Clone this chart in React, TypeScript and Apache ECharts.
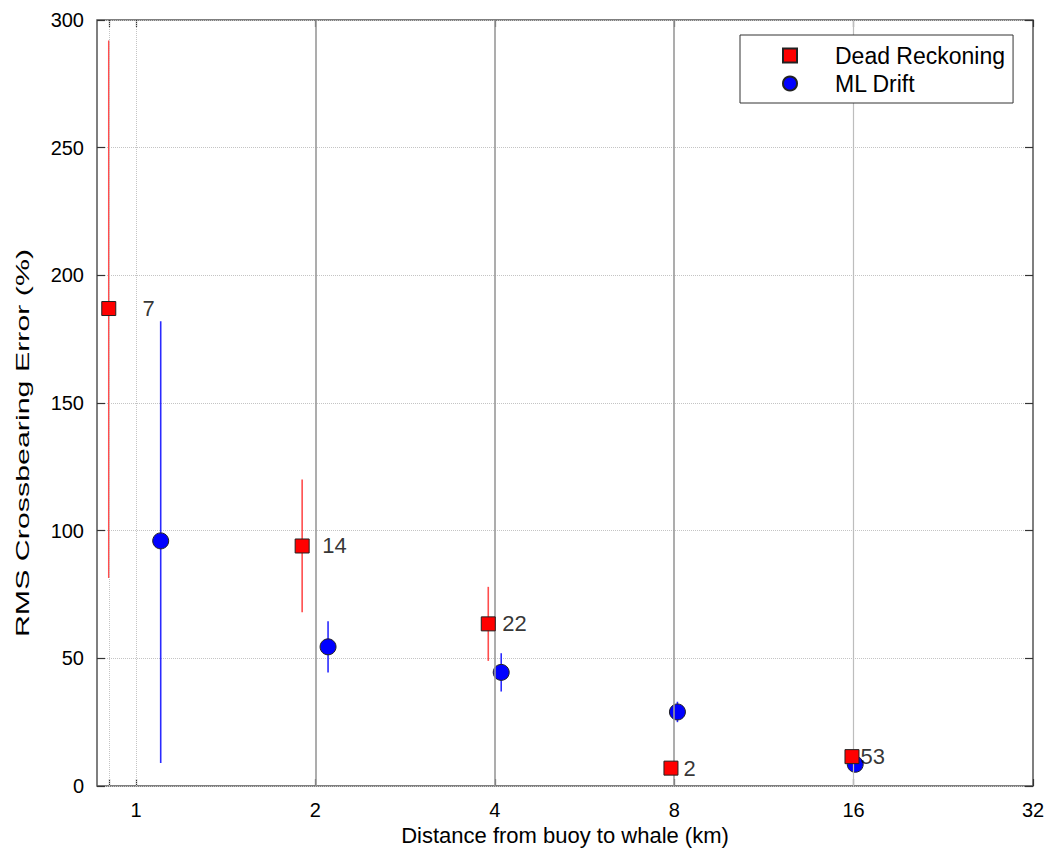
import React, { useEffect, useRef } from "react";
import * as echarts from "echarts";

// axis ranges (km, %)
const xMin = 0.86;
const xMax = 32;
const yMin = 0;
const yMax = 300;
const yStep = 50;
const xTickLabels = [1, 2, 4, 8, 16, 32];
const xTickMarks = [0.9, 1, 2, 4, 8, 16, 32];
const dottedX = [0.9, 1];
const solidX = [2, 4, 8];
const lightX = [16];

// Dead Reckoning
const drX = [0.9, 1.9, 3.9, 7.9, 15.9];
const drY = [187, 94, 63.5, 7, 11.5];
const drLo = [81.5, 68, 49, 6.5, 11];
const drHi = [292, 120, 78, 7.5, 12];

// ML Drift
const mlX = [1.1, 2.1, 4.1, 8.1, 16.1];
const mlY = [96, 54.5, 44.5, 29, 8.5];
const mlLo = [9, 44.5, 37, 25, 8];
const mlHi = [182, 64.5, 52, 33, 9];

// sample counts annotated next to the Dead Reckoning points
const counts = [7, 14, 22, 2, 53];
const countX = [1.023, 2.05, 4.11, 8.28, 16.4];

const FONT = "'Liberation Sans', Arial, sans-serif";
const lg = (v: number) => Math.log2(v);

function errSeries(xs: number[], lo: number[], hi: number[], color: string) {
  return {
    type: "custom",
    silent: true,
    z: 2,
    data: xs.map((x, i) => [lg(x), lo[i], hi[i]]),
    encode: { x: 0, y: [1, 2] },
    renderItem: (_p: any, api: any) => {
      const a = api.coord([api.value(0), api.value(1)]);
      const b = api.coord([api.value(0), api.value(2)]);
      return {
        type: "line",
        shape: { x1: a[0], y1: a[1], x2: b[0], y2: b[1] },
        style: { stroke: color, lineWidth: 1.6 },
      };
    },
  };
}

export default function App() {
  const ref = useRef<HTMLDivElement>(null);
  useEffect(() => {
    if (!ref.current) return;
    const chart = echarts.init(ref.current, undefined, { renderer: "svg" });
    const vLines = [
      ...dottedX.map((x) => ({ xAxis: lg(x), lineStyle: { type: "dotted", color: "#c4c4c4", width: 1 } })),
      ...solidX.map((x) => ({ xAxis: lg(x), lineStyle: { type: "solid", color: "#999999", width: 1.6 } })),
      ...lightX.map((x) => ({ xAxis: lg(x), lineStyle: { type: "solid", color: "#bdbdbd", width: 1.2 } })),
    ];
    const tickStyle = { color: "#333", width: 1.2 };
    chart.setOption({
      animation: false,
      backgroundColor: "#ffffff",
      textStyle: { fontFamily: FONT },
      grid: {
        left: 97,
        top: 20,
        width: 936,
        height: 766,
        containLabel: false,
        outerBoundsMode: "none",
        show: true,
        borderColor: "#555555",
        borderWidth: 1.5,
        backgroundColor: "transparent",
      },
      legend: {
        orient: "vertical",
        left: 740,
        top: 35,
        data: ["Dead Reckoning", "ML Drift"],
        backgroundColor: "#ffffff",
        borderColor: "#333333",
        borderWidth: 1,
        borderRadius: 0,
        padding: [9, 8, 8, 42],
        itemGap: 5,
        itemWidth: 14,
        itemHeight: 14,
        textStyle: { fontSize: 23, color: "#000", fontFamily: FONT, padding: [0, 0, 0, 33] },
        z: 20,
      },
      xAxis: [
        {
          type: "value",
          min: lg(xMin),
          max: lg(xMax),
          name: "Distance from buoy to whale (km)",
          nameLocation: "middle",
          nameGap: 38,
          nameMoveOverlap: false,
          nameTextStyle: { fontSize: 22, color: "#000", fontFamily: FONT },
          axisLine: { show: false, onZero: false },
          splitLine: { show: false },
          axisTick: {
            show: true,
            inside: true,
            length: 7,
            customValues: xTickMarks.map(lg),
            lineStyle: tickStyle,
          },
          axisLabel: {
            customValues: xTickLabels.map(lg),
            formatter: (v: number) => String(Math.round(Math.pow(2, v))),
            fontSize: 20,
            color: "#000",
            margin: 14,
            fontFamily: FONT,
          },
        },
        {
          type: "value",
          position: "top",
          min: lg(xMin),
          max: lg(xMax),
          axisLine: { show: false, onZero: false },
          splitLine: { show: false },
          axisLabel: { show: false },
          axisTick: {
            show: true,
            inside: true,
            length: 7,
            customValues: xTickMarks.map(lg),
            lineStyle: tickStyle,
          },
        },
      ],
      yAxis: [
        {
          type: "value",
          min: yMin,
          max: yMax,
          interval: yStep,
          axisLine: { show: false, onZero: false },
          axisTick: { show: true, inside: true, length: 8, lineStyle: tickStyle },
          splitLine: { show: true, lineStyle: { type: "dotted", color: "#c4c4c4", width: 1 } },
          axisLabel: { fontSize: 20, color: "#000", margin: 13, fontFamily: FONT },
        },
        {
          type: "value",
          position: "right",
          min: yMin,
          max: yMax,
          interval: yStep,
          axisLine: { show: false, onZero: false },
          axisTick: { show: true, inside: true, length: 8, lineStyle: tickStyle },
          splitLine: { show: false },
          axisLabel: { show: false },
        },
      ],
      graphic: [
        {
          type: "text",
          x: 22,
          y: 443,
          rotation: Math.PI / 2,
          scaleX: 1.6,
          style: {
            text: "RMS Crossbearing Error (%)",
            font: `19px ${FONT}`,
            fill: "#000",
            align: "center",
            verticalAlign: "middle",
          },
        },
      ],
      series: [
        {
          type: "line",
          data: [],
          silent: true,
          markLine: { silent: true, symbol: "none", label: { show: false }, data: vLines },
        },
        errSeries(drX, drLo, drHi, "#ff4d4d"),
        errSeries(mlX, mlLo, mlHi, "#2a2aff"),
        {
          name: "Dead Reckoning",
          type: "scatter",
          symbol: "rect",
          symbolSize: 14,
          z: 5,
          itemStyle: { color: "#ff0000", borderColor: "#222", borderWidth: 1, opacity: 1 },
          data: drX.map((x, i) => [lg(x), drY[i]]),
        },
        {
          name: "ML Drift",
          type: "scatter",
          symbol: "circle",
          symbolSize: 16,
          z: 4,
          itemStyle: { color: "#0000ff", borderColor: "#222", borderWidth: 1, opacity: 1 },
          data: mlX.map((x, i) => [lg(x), mlY[i]]),
        },
        {
          type: "scatter",
          symbolSize: 1,
          silent: true,
          z: 6,
          itemStyle: { color: "transparent" },
          data: countX.map((x, i) => ({ value: [lg(x), drY[i]], name: String(counts[i]) })),
          label: {
            show: true,
            position: "right",
            distance: 0,
            formatter: (p: any) => p.name,
            fontSize: 22,
            color: "#000",
            fontFamily: FONT,
          },
        },
      ],
    });
    return () => chart.dispose();
  }, []);
  return (
    <div
      ref={ref}
      style={{ position: "fixed", left: 0, top: 0, width: 1048, height: 850, background: "#fff" }}
    />
  );
}
